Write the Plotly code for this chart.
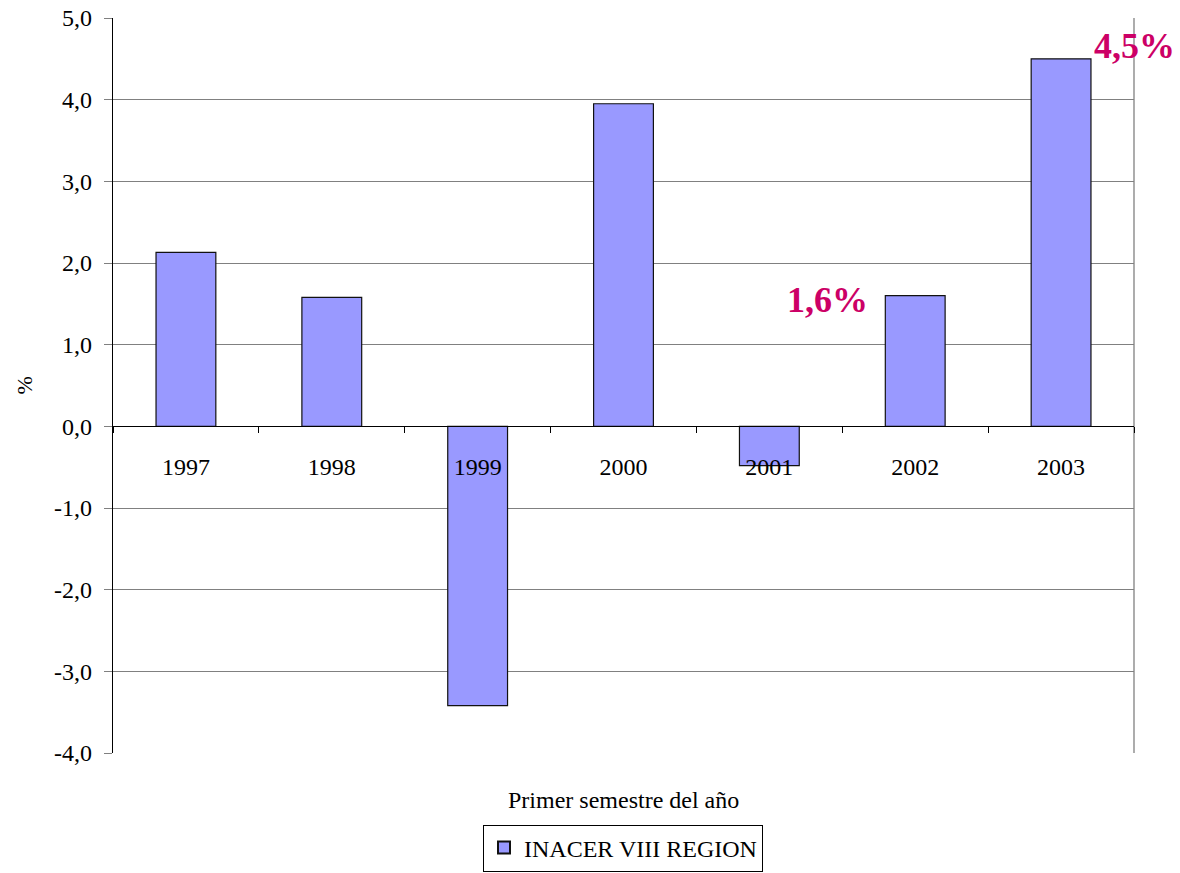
import plotly.graph_objects as go

# INACER VIII Región, variación del primer semestre (%)
years = ["1997", "1998", "1999", "2000", "2001", "2002", "2003"]
inacer = [2.13, 1.58, -3.42, 3.95, -0.48, 1.6, 4.5]
y_ticks = [-4, -3, -2, -1, 0, 1, 2, 3, 4, 5]
y_ticktext = [f"{v:.1f}".replace(".", ",") for v in y_ticks]

# years whose value is written beside the bar
callouts = {"2002": ("right", -45, -4), "2003": ("left", 31, 13)}

FONT = "Liberation Serif"
Y_MIN, Y_MAX = -4, 5

fig = go.Figure()
fig.add_trace(go.Bar(
    x=years, y=inacer, name="INACER VIII REGION",
    marker=dict(color="#9999FF", line=dict(color="#111111", width=1.2)),
    width=0.41,
))

annotations = []
for yr, (anchor, dx, dy) in callouts.items():
    i = years.index(yr)
    v = inacer[i]
    annotations.append(dict(
        x=i, y=v, xref="x", yref="y",
        text=f"{v:.1f}%".replace(".", ","),
        showarrow=False, xanchor=anchor, yanchor="middle",
        xshift=dx, yshift=dy,
        font=dict(family=FONT, size=36, color="#CC0066", weight="bold"),
    ))

annotations.append(dict(
    x=0.5, y=-0.064, xref="paper", yref="paper", text="Primer semestre del año",
    showarrow=False, xanchor="center", yanchor="middle",
    font=dict(family=FONT, size=24, color="#000000"),
))
annotations.append(dict(
    x=-0.0862, y=0.5, xref="paper", yref="paper", text="%", textangle=-90,
    showarrow=False, xanchor="center", yanchor="middle",
    font=dict(family=FONT, size=22, color="#000000"),
))

fig.update_layout(
    width=1180, height=873,
    margin=dict(l=113, r=46, t=18, b=120),
    paper_bgcolor="white", plot_bgcolor="white",
    font=dict(family=FONT, size=24, color="#000000"),
    bargap=0.59,
    showlegend=True,
    legend=dict(
        orientation="h", xref="container", yref="container",
        x=623 / 1180, xanchor="center", y=1.5 / 873, yanchor="bottom",
        bordercolor="#000000", borderwidth=1,
        font=dict(family=FONT, size=24),
        itemsizing="constant",
    ),
    annotations=annotations,
    shapes=[dict(type="line", xref="paper", yref="paper", x0=1, x1=1, y0=0, y1=1,
                 line=dict(color="#808080", width=1.3), layer="below")],
    xaxis=dict(
        type="category", range=[-0.5, len(years) - 0.5],
        anchor="free", position=(0 - Y_MIN) / (Y_MAX - Y_MIN),
        showline=True, linecolor="#000000", linewidth=1.3,
        ticks="outside", tickson="boundaries", ticklen=6, tickcolor="#000000",
        ticklabelstandoff=19, tickangle=0,
        showgrid=False, zeroline=False, automargin=False,
        tickfont=dict(family=FONT, size=24),
    ),
    yaxis=dict(
        range=[Y_MIN, Y_MAX], tickvals=y_ticks, ticktext=y_ticktext,
        showline=True, linecolor="#000000", linewidth=1.3,
        ticks="outside", ticklen=8, tickcolor="#808080",
        ticklabelstandoff=7,
        showgrid=True, gridcolor="#808080", gridwidth=1.3,
        zeroline=False, automargin=False,
        tickfont=dict(family=FONT, size=24),
    ),
)

fig.write_html("out.html")
